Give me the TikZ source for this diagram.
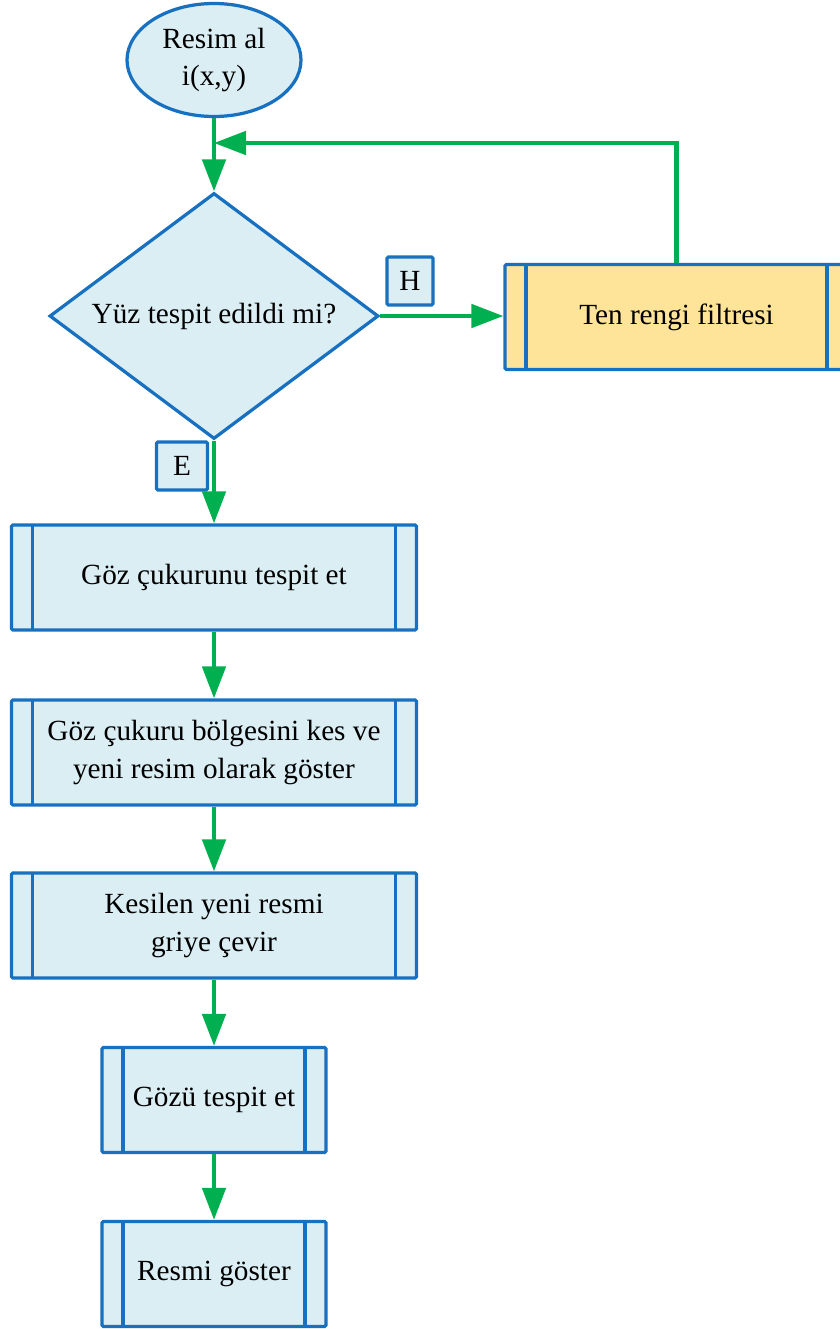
\documentclass[tikz,border=0pt]{standalone}
\usepackage{fontspec}
\setmainfont{Liberation Serif}
\usetikzlibrary{shapes.geometric,arrows.meta}
\definecolor{flowblue}{RGB}{23,112,192}
\definecolor{flowgreen}{RGB}{0,176,80}
\definecolor{lightfill}{RGB}{219,238,244}
\definecolor{goldfill}{RGB}{254,228,152}
\def\px{0.025cm}
\tikzset{
  flowtext/.style={font=\fontsize{20.8}{27}\selectfont, align=center, text=black},
  startoval/.style={ellipse, draw=flowblue, fill=lightfill, line width=2.3pt, inner sep=0pt,
    minimum width=174*\px, minimum height=113*\px, flowtext},
  decision/.style={diamond, aspect=1.33, draw=flowblue, fill=lightfill, line width=2.3pt, inner sep=0pt,
    minimum width=329*\px, minimum height=246*\px, flowtext},
  procbox/.style={rectangle, rounded corners=1pt, draw=flowblue, fill=lightfill, line width=2.3pt,
    inner sep=0pt, minimum height=105*\px, flowtext,
    path picture={
      \draw[flowblue, line width=2.3pt]
        ([xshift=21*\px]path picture bounding box.north west) -- ([xshift=21*\px]path picture bounding box.south west)
        ([xshift=-21*\px]path picture bounding box.north east) -- ([xshift=-21*\px]path picture bounding box.south east);
    }},
  tagbox/.style={rectangle, rounded corners=1pt, draw=flowblue, fill=lightfill, line width=2.3pt,
    inner sep=0pt, minimum width=46*\px, minimum height=48*\px, flowtext},
  flow/.style={-{Triangle[length=0.8cm, width=0.58cm]}, draw=flowgreen, line width=3.1pt}
}
\begin{document}
\begin{tikzpicture}[x=\px, y=-\px]
  \useasboundingbox (0,0) rectangle (840,1329);

  % start and decision
  \node[startoval] (start) at (214,60) {Resim al\\i(x,y)};
  \node[decision] (face) at (214,316) {Yüz tespit edildi mi?};
  \node[procbox, fill=goldfill, minimum width=343*\px] (skin) at (676.5,317) {Ten rengi filtresi};
  \coordinate (join) at (214,143);

  % process steps
  \node[procbox, minimum width=405*\px] (socket) at (214,577.5) {Göz çukurunu tespit et};
  \node[procbox, minimum width=405*\px] (crop) at (214,752.5) {Göz çukuru bölgesini kes ve\\yeni resim olarak göster};
  \node[procbox, minimum width=405*\px] (gray) at (214,925.5) {Kesilen yeni resmi\\griye çevir};
  \node[procbox, minimum width=224*\px] (eye) at (214,1100) {Gözü tespit et};
  \node[procbox, minimum width=224*\px] (show) at (214,1274) {Resmi göster};

  % yes / no tags
  \node[tagbox] (no) at (410,281) {H};
  \node[tagbox, minimum width=51*\px] (yes) at (182,466) {E};

  % connectors
  \draw[flow] (start) -- (face);
  \draw[flow] (skin.north) |- (join);
  \draw[flow] (face.east) -- (face.east -| skin.west);
  \draw[flow] (face) -- (socket);
  \draw[flow] (socket) -- (crop);
  \draw[flow] (crop) -- (gray);
  \draw[flow] (gray) -- (eye);
  \draw[flow] (eye) -- (show);
\end{tikzpicture}
\end{document}
